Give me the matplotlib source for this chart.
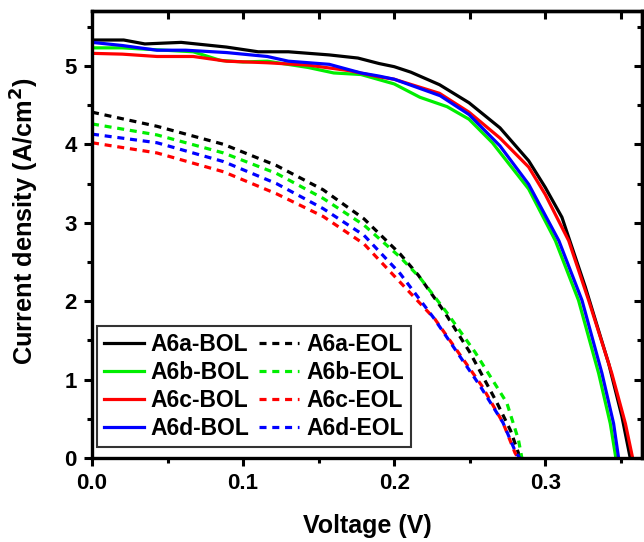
import matplotlib
matplotlib.use("Agg")
import matplotlib.pyplot as plt
from matplotlib.ticker import MultipleLocator, FormatStrFormatter

plt.rcParams['font.family'] = ['Liberation Sans', 'DejaVu Sans']
plt.rcParams['font.weight'] = 'bold'
plt.rcParams['mathtext.default'] = 'bf'

# ---- data ----
v_a_bol = [0, 0.021, 0.035, 0.059, 0.089, 0.11, 0.13, 0.157, 0.176, 0.19, 0.2, 0.211, 0.23, 0.2495, 0.27, 0.289, 0.3, 0.311, 0.3265, 0.342, 0.3507, 0.3562]
j_a_bol = [5.33, 5.33, 5.28, 5.30, 5.24, 5.18, 5.18, 5.14, 5.10, 5.03, 4.99, 4.92, 4.76, 4.53, 4.21, 3.79, 3.45, 3.07, 2.18, 1.20, 0.53, 0]

v_b_bol = [0, 0.02, 0.048, 0.067, 0.085, 0.1, 0.116, 0.143, 0.16, 0.178, 0.2, 0.217, 0.235, 0.2495, 0.265, 0.289, 0.3067, 0.322, 0.3353, 0.343, 0.3467]
j_b_bol = [5.23, 5.23, 5.20, 5.18, 5.07, 5.05, 5.06, 4.98, 4.91, 4.89, 4.77, 4.60, 4.48, 4.32, 4.02, 3.43, 2.77, 2.01, 1.08, 0.44, 0]

v_c_bol = [0, 0.02, 0.043, 0.067, 0.089, 0.116, 0.143, 0.17, 0.19, 0.2, 0.23, 0.2495, 0.27, 0.289, 0.3, 0.3155, 0.3287, 0.344, 0.353, 0.3578]
j_c_bol = [5.16, 5.15, 5.12, 5.12, 5.06, 5.04, 5.01, 4.94, 4.86, 4.83, 4.65, 4.41, 4.08, 3.71, 3.36, 2.77, 2.01, 1.08, 0.44, 0]

v_d_bol = [0, 0.02, 0.043, 0.062, 0.089, 0.116, 0.13, 0.157, 0.178, 0.19, 0.2, 0.2304, 0.2495, 0.27, 0.289, 0.309, 0.3243, 0.3375, 0.3452, 0.3485]
j_d_bol = [5.30, 5.26, 5.20, 5.20, 5.17, 5.12, 5.06, 5.02, 4.91, 4.87, 4.83, 4.62, 4.38, 3.98, 3.49, 2.77, 2.01, 1.08, 0.44, 0]

v_a_eol = [0, 0.043, 0.087, 0.122, 0.153, 0.18, 0.204, 0.216, 0.233, 0.25, 0.268, 0.277, 0.2822, 0.2825]
j_a_eol = [4.41, 4.23, 4.00, 3.73, 3.42, 3.05, 2.60, 2.33, 1.87, 1.35, 0.705, 0.35, 0.064, 0]

v_b_eol = [0, 0.043, 0.087, 0.122, 0.153, 0.18, 0.204, 0.217, 0.235, 0.2535, 0.2745, 0.2822, 0.2845]
j_b_eol = [4.26, 4.12, 3.89, 3.63, 3.31, 2.97, 2.56, 2.30, 1.85, 1.35, 0.705, 0.235, 0]

v_c_eol = [0, 0.043, 0.087, 0.122, 0.153, 0.18, 0.204, 0.227, 0.258, 0.272, 0.28, 0.282]
j_c_eol = [4.02, 3.89, 3.65, 3.37, 3.08, 2.73, 2.24, 1.77, 0.92, 0.45, 0.064, 0]

v_d_eol = [0, 0.043, 0.087, 0.122, 0.153, 0.18, 0.204, 0.226, 0.2568, 0.272, 0.2806, 0.2832]
j_d_eol = [4.13, 4.02, 3.78, 3.50, 3.18, 2.84, 2.35, 1.79, 0.92, 0.45, 0.064, 0]

labels_bol = ['A6a-BOL', 'A6b-BOL', 'A6c-BOL', 'A6d-BOL']
labels_eol = ['A6a-EOL', 'A6b-EOL', 'A6c-EOL', 'A6d-EOL']
colors = ['#000000', '#00EE00', '#FF0000', '#0000FF']

bol = [(v_a_bol, j_a_bol), (v_b_bol, j_b_bol), (v_c_bol, j_c_bol), (v_d_bol, j_d_bol)]
eol = [(v_a_eol, j_a_eol), (v_b_eol, j_b_eol), (v_c_eol, j_c_eol), (v_d_eol, j_d_eol)]

fig = plt.figure(figsize=(6.44, 5.42), dpi=100)
ax = fig.add_axes([92/644, 1 - 458/542, (642 - 92)/644, (458 - 11)/542])

lw = 2.3
handles = []
for (v, j), c, lab in zip(bol, colors, labels_bol):
    h, = ax.plot(v, j, color=c, lw=lw, label=lab, solid_joinstyle='round')
    handles.append(h)
for (v, j), c, lab in zip(eol, colors, labels_eol):
    h, = ax.plot(v, j, color=c, lw=lw, ls=(0, (2.2, 1.8)), label=lab)
    handles.append(h)

ax.set_xlim(0, 0.364)
ax.set_ylim(0, 5.7)
ax.xaxis.set_major_locator(MultipleLocator(0.1))
ax.xaxis.set_minor_locator(MultipleLocator(0.05))
ax.yaxis.set_major_locator(MultipleLocator(1))
ax.yaxis.set_minor_locator(MultipleLocator(0.5))
ax.xaxis.set_major_formatter(FormatStrFormatter('%.1f'))

for s in ax.spines.values():
    s.set_linewidth(2.4)

ax.tick_params(which='major', direction='out', length=6, width=2.2, labelsize=16, pad=5)
ax.tick_params(which='minor', direction='out', length=3.5, width=2.2)

secx = ax.secondary_xaxis('top')
secx.xaxis.set_major_locator(MultipleLocator(0.1))
secx.xaxis.set_minor_locator(MultipleLocator(0.05))
secx.tick_params(which='both', direction='in', length=6, width=2.2, labeltop=False)
secx.spines['top'].set_linewidth(2.4)

secy = ax.secondary_yaxis('right')
secy.yaxis.set_major_locator(MultipleLocator(1))
secy.yaxis.set_minor_locator(MultipleLocator(0.5))
secy.tick_params(which='both', direction='in', length=6, width=2.2, labelright=False)
secy.tick_params(which='minor', length=3.5)
secy.spines['right'].set_linewidth(2.4)

for lab in ax.get_xticklabels() + ax.get_yticklabels():
    lab.set_fontweight('bold')

ax.set_xlabel('Voltage (V)', fontsize=18, fontweight='bold', labelpad=14)
ax.set_ylabel('Current density (A/cm$^{2}$)', fontsize=18.3, fontweight='bold')
ax.yaxis.set_label_coords(-0.092, 0.53)

leg = ax.legend(handles=handles, ncol=2, loc='lower left', bbox_to_anchor=(0.009, 0.025),
                borderaxespad=0, fontsize=16.5, frameon=True, fancybox=False,
                edgecolor='black', handlelength=1.75, handletextpad=0.3,
                columnspacing=0.4, labelspacing=0.22, borderpad=0.3)
leg.get_frame().set_linewidth(1.5)
for t in leg.get_texts():
    t.set_fontweight('bold')

fig.savefig('out.png', dpi=100)
